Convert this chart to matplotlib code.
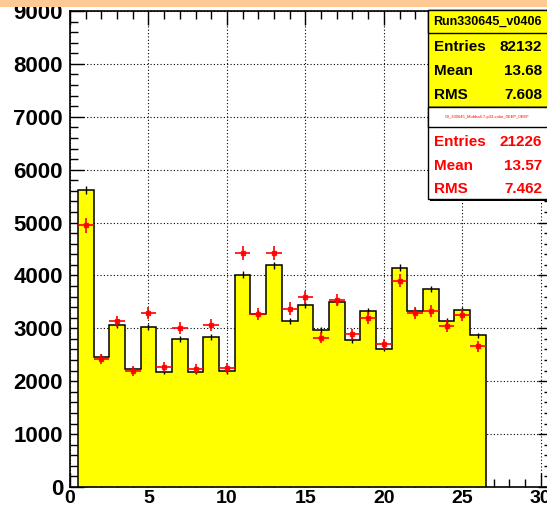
import numpy as np
import matplotlib
matplotlib.use('Agg')
import matplotlib.pyplot as plt
from matplotlib.patches import Rectangle
from matplotlib.ticker import MultipleLocator

# bin contents (bins 1..26, width 1)
bin_edges = np.arange(0.5, 27.5, 1.0)
run_counts = [5620, 2460, 3070, 2225, 3030, 2175, 2800, 2175, 2840, 2190,
              4015, 3280, 4195, 3145, 3435, 2970, 3495, 2780, 3335, 2615,
              4145, 3335, 3745, 3145, 3345, 2865]
ref_counts = [4950, 2415, 3130, 2195, 3290, 2270, 3010, 2225, 3060, 2245,
              4430, 3265, 4430, 3375, 3585, 2825, 3530, 2890, 3200, 2695,
              3900, 3290, 3335, 3040, 3245, 2660]

run_name = 'Run330645_v0406'
ref_name = 'Gil_330645_Mobba4.7-p33-color_0EEP_0EEF'
run_stats = [('Entries', '82132'), ('Mean', '13.68'), ('RMS', '7.608')]
ref_stats = [('Entries', '21226'), ('Mean', '13.57'), ('RMS', '7.462')]

W, H = 547, 508
plt.rcParams['font.family'] = ['Liberation Sans', 'DejaVu Sans']
fig = plt.figure(figsize=(W / 100, H / 100), dpi=100)

# axes placed in pixel units, right frame runs a bit past the picture
ax = fig.add_axes([70 / W, 21 / H, 481.7 / W, 476 / H])

centers = 0.5 * (bin_edges[:-1] + bin_edges[1:])
run = np.array(run_counts, float)
ref = np.array(ref_counts, float)
scale = 82132 / 21226

ax.stairs(run, bin_edges, fill=True, color='#ffff00', zorder=2)
ax.stairs(run, bin_edges, baseline=0, color='black', lw=1.1, zorder=3)
ax.errorbar(centers, run, yerr=np.sqrt(run), fmt='none', ecolor='black',
            elinewidth=1.0, zorder=3)
ax.errorbar(centers, ref, xerr=0.5, yerr=np.sqrt(ref * scale), fmt='s',
            color='red', ms=3, elinewidth=1.4, capsize=0, alpha=0.85, zorder=4)

ax.set_xlim(0, 30.7)
ax.set_ylim(0, 9000)
ax.xaxis.set_major_locator(MultipleLocator(5))
ax.xaxis.set_minor_locator(MultipleLocator(1))
ax.yaxis.set_major_locator(MultipleLocator(1000))
ax.yaxis.set_minor_locator(MultipleLocator(200))
ax.tick_params(which='both', direction='in', top=True, right=True, width=1.0)
ax.tick_params(which='major', length=10)
ax.tick_params(which='minor', length=5.5)
ax.tick_params(axis='y', which='major', pad=5, labelsize=16)
ax.tick_params(axis='x', which='major', pad=2, labelsize=14)
for lab in ax.get_xticklabels() + ax.get_yticklabels():
    lab.set_fontweight('bold')
ax.grid(True, which='major', linestyle=(0, (1, 2)), color='black', lw=0.8)
ax.set_axisbelow(True)
for s in ax.spines.values():
    s.set_linewidth(1.2)


def px_rect(x0, y0, x1, y1, **kw):
    # rectangle from picture pixel coords (top-left origin)
    return Rectangle((x0 / W, 1 - y1 / H), (x1 - x0) / W, (y1 - y0) / H,
                     transform=fig.transFigure, **kw)


def px_text(x, y, s, **kw):
    fig.text(x / W, 1 - y / H, s, **kw)


# orange strip over the top edge
fig.patches.append(px_rect(0, 0, W, 7.3, facecolor='#fec994', edgecolor='none', zorder=10))

# stats boxes
fig.patches.append(px_rect(430, 12, 560, 201, facecolor='black', edgecolor='none', zorder=5))
fig.patches.append(px_rect(428, 10, 558, 107, facecolor='#ffff00', edgecolor='black', lw=1.0, zorder=6))
fig.patches.append(px_rect(428, 10, 558, 33, facecolor='#ffff00', edgecolor='black', lw=1.0, zorder=6))
fig.patches.append(px_rect(428, 107, 558, 199, facecolor='white', edgecolor='black', lw=1.0, zorder=6))
fig.patches.append(px_rect(428, 107, 558, 127, facecolor='white', edgecolor='black', lw=1.0, zorder=6))

px_text(487, 22, run_name, ha='center', va='center', fontsize=9, fontweight='bold', zorder=7)
px_text(487, 117, ref_name, ha='center', va='center', fontsize=3, color='red', zorder=7)
for i, (k, v) in enumerate(run_stats):
    y = 47 + 24 * i
    px_text(434, y, k, ha='left', va='center', fontsize=11, fontweight='bold', zorder=7)
    px_text(542, y, v, ha='right', va='center', fontsize=11, fontweight='bold', zorder=7)
for i, (k, v) in enumerate(ref_stats):
    y = 142 + 23.5 * i
    px_text(434, y, k, ha='left', va='center', fontsize=11, fontweight='bold', color='red', zorder=7)
    px_text(542, y, v, ha='right', va='center', fontsize=11, fontweight='bold', color='red', zorder=7)

fig.savefig('out.png', dpi=100)
